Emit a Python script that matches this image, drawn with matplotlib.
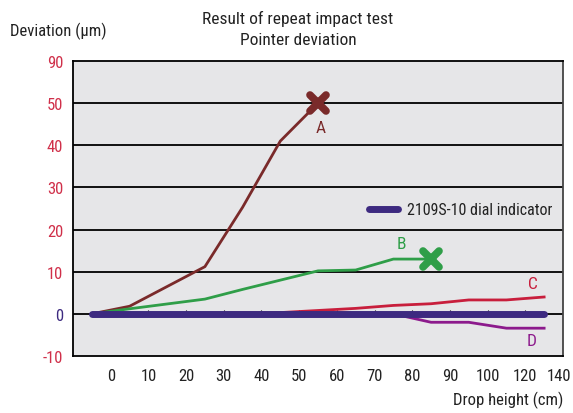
import matplotlib
matplotlib.use("Agg")
import matplotlib.pyplot as plt
from matplotlib import font_manager
from matplotlib.markers import MarkerStyle
from matplotlib.transforms import ScaledTranslation

# pick a condensed/narrow font if one is installed
fam, stretch = 'DejaVu Sans', 'normal'
cands = []
for f in font_manager.fontManager.ttflist:
    st = str(f.stretch)
    if 'Narrow' in f.name or 'Condensed' in f.name or st in ('condensed', 'semi-condensed', '500', '600') \
            or (st.isdigit() and int(st) < 500):
        cands.append((f.name, f.stretch, f.style, f.weight))
pref = ['Liberation Sans Narrow', 'Roboto Condensed', 'Open Sans Condensed', 'DejaVu Sans', 'Noto Sans']
chosen = None
for p in pref:
    for c in cands:
        if c[0] == p and c[2] == 'normal':
            chosen = c
            break
    if chosen:
        break
if chosen is None and cands:
    chosen = cands[0]
if chosen:
    fam, stretch = chosen[0], chosen[1]
plt.rcParams['font.family'] = [fam, 'DejaVu Sans']
plt.rcParams['font.stretch'] = stretch

# Data (x in axis units; tick labels as printed)
x_ticks = [0, 10, 20, 30, 40, 50, 60, 70, 80, 90, 100, 110, 120]
x_labels = ['0', '10', '20', '30', '40', '50', '60', '70', '80', '90', '100', '120', '140']
y_ticks = [-10, 0, 10, 20, 30, 40, 50, 60]
y_labels = ['-10', '0', '10', '20', '30', '40', '50', '90']

a_x = [-5, 5, 25, 35, 45, 55]
a_y = [0, 1.8, 11.2, 25.3, 41, 50]
b_x = [-5, 5, 25, 35, 45, 55, 65, 75, 85]
b_y = [0, 1.2, 3.5, 5.8, 8.0, 10.2, 10.4, 13, 13]
c_x = [-5, 25, 45, 55, 65, 75, 85, 95, 105, 115]
c_y = [0, 0.1, 0.3, 0.8, 1.3, 2.0, 2.4, 3.3, 3.3, 4.0]
d_x = [-5, 75, 85, 95, 105, 115]
d_y = [0, 0, -2.0, -2.0, -3.4, -3.4]
ind_x = [-5, 115]
ind_y = [0, 0]

col_a = '#7a2a2a'
col_b = '#2f9e48'
col_c = '#c81e3c'
col_d = '#8c1a8c'
col_ind = '#3d2a80'
col_tick = '#d0304a'

fig = plt.figure(figsize=(5.73, 4.14), dpi=100)
ax = fig.add_axes([0.1274, 0.1377, 0.8551, 0.7125])
ax.set_facecolor('#e6e6e8')
ax.set_xlim(-10, 120)
ax.set_ylim(-10, 60)

for yv in y_ticks[1:-1]:
    ax.axhline(yv, color='black', lw=1.3, zorder=1)

ax.vlines(x_ticks, 0, 0.8, color='black', lw=0.8, zorder=1)

xm = MarkerStyle('x', capstyle='round')
ax.plot(a_x, a_y, color=col_a, lw=2.0, zorder=3)
ax.plot(a_x[-1:], a_y[-1:], marker=xm, color=col_a, ms=12, mew=5.5, zorder=4)
ax.plot(b_x, b_y, color=col_b, lw=2.0, zorder=3)
ax.plot(b_x[-1:], b_y[-1:], marker=xm, color=col_b, ms=12, mew=5.5, zorder=4)
ax.plot(c_x, c_y, color=col_c, lw=2.0, zorder=3)
ax.plot(d_x, d_y, color=col_d, lw=2.0, zorder=3)
ax.plot(ind_x, ind_y, color=col_ind, lw=5, solid_capstyle='round', zorder=5,
        label='2109S-10 dial indicator')

ax.text(55.6, 44.3, 'A', color=col_a, fontsize=12.5, ha='center', va='center')
ax.text(77, 16.6, 'B', color=col_b, fontsize=12.5, ha='center', va='center')
ax.text(112, 7.1, 'C', color=col_c, fontsize=12.5, ha='center', va='center')
ax.text(111.6, -6.4, 'D', color=col_d, fontsize=12.5, ha='center', va='center')

leg = ax.legend(loc='center left', bbox_to_anchor=(0.575, 0.496), frameon=False,
                fontsize=11.5, handlelength=1.8, handletextpad=0.6)
for t in leg.get_texts():
    t.set_color('#222222')

ax.set_xticks(x_ticks)
ax.set_xticklabels(x_labels)
ax.set_yticks(y_ticks)
ax.set_yticklabels(y_labels)
ax.tick_params(axis='both', length=0, labelsize=12, colors='#222222')
ax.tick_params(axis='x', pad=9)
ax.tick_params(axis='y', pad=7)
for lbl, v in zip(ax.get_yticklabels(), y_ticks):
    lbl.set_color(col_ind if v == 0 else col_tick)
last = ax.get_xticklabels()[-1]
last.set_transform(last.get_transform() + ScaledTranslation(-3 / 72, 0, fig.dpi_scale_trans))

for s in ax.spines.values():
    s.set_color('black')
    s.set_linewidth(1.3)
ax.spines['right'].set_color('#444444')

fig.text(0.52, 0.955, 'Result of repeat impact test', ha='center', va='center',
         fontsize=12.5, color='#222222')
fig.text(0.52, 0.903, 'Pointer deviation', ha='center', va='center',
         fontsize=12.5, color='#222222')
fig.text(0.017, 0.925, 'Deviation (μm)', ha='left', va='center', fontsize=12,
         color='#222222')
fig.text(0.983, 0.034, 'Drop height (cm)', ha='right', va='center', fontsize=12,
         color='#222222')

fig.savefig('out.png', dpi=100)
